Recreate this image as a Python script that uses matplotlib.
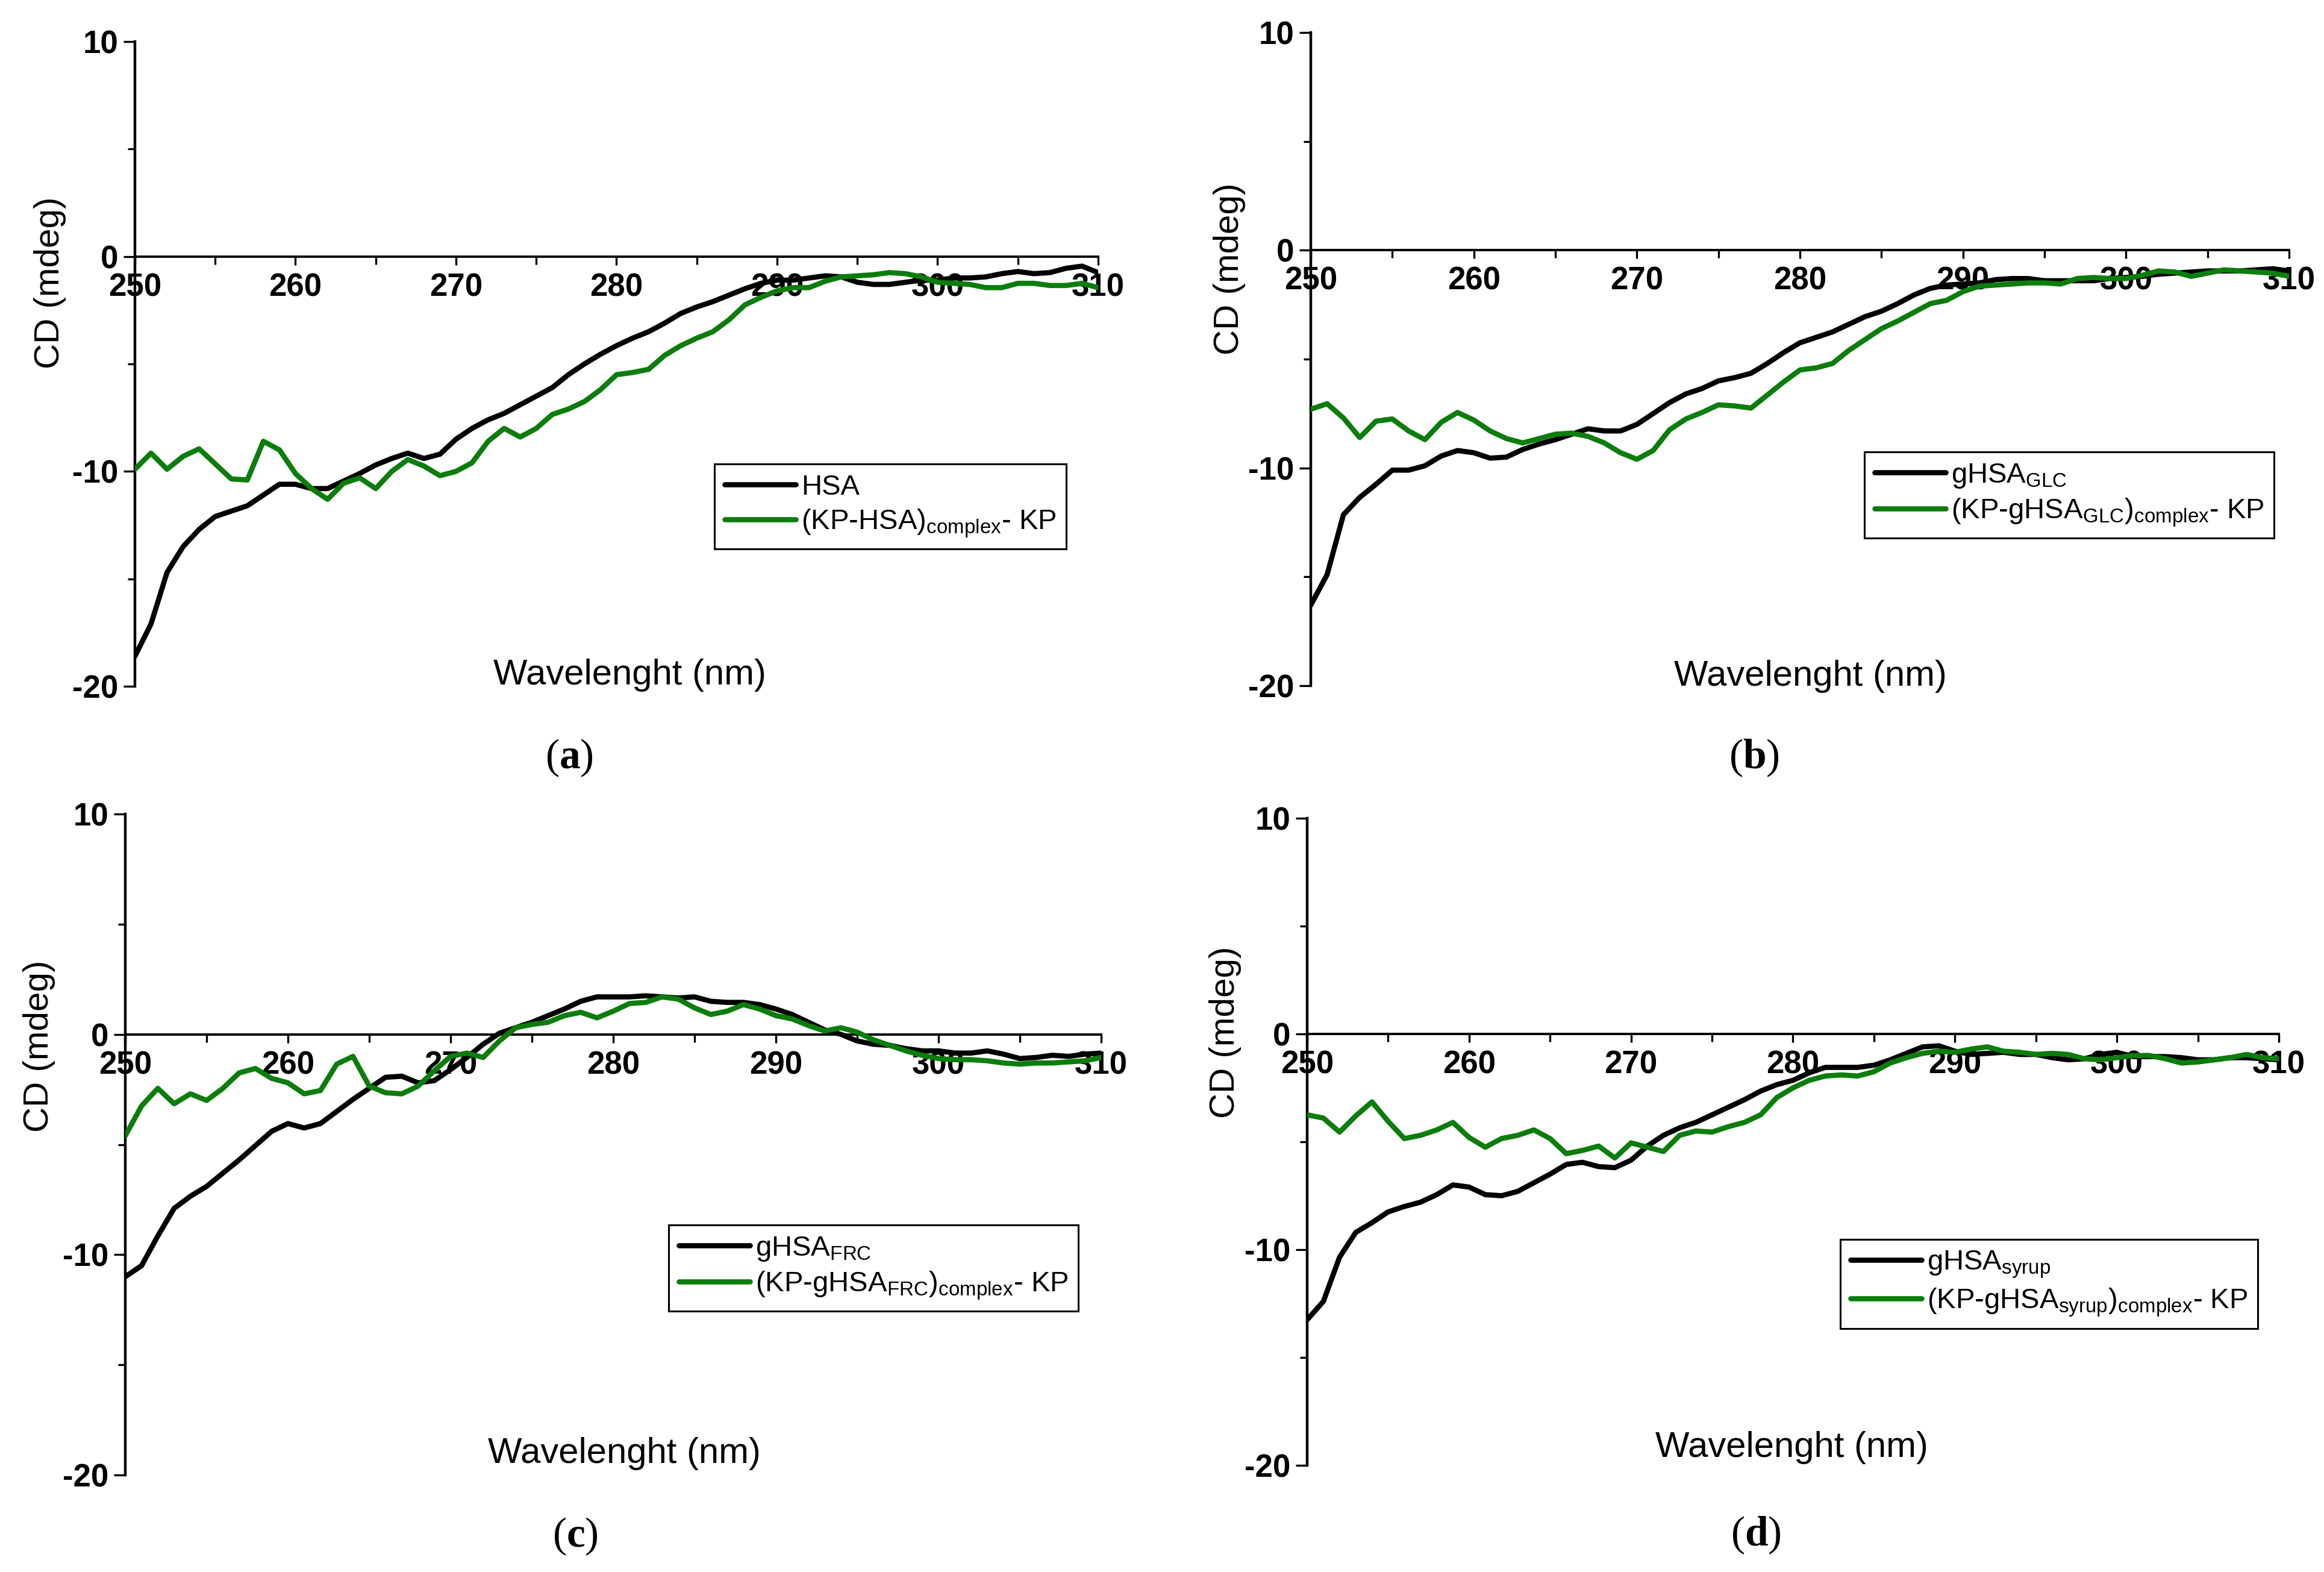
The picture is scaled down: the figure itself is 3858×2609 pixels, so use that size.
import numpy as np
import matplotlib
matplotlib.use("Agg")
import matplotlib.pyplot as plt

plt.rcParams['font.family'] = ['Liberation Sans', 'DejaVu Sans']
plt.rcParams['axes.unicode_minus'] = False
plt.rcParams['mathtext.fontset'] = 'custom'
plt.rcParams['mathtext.rm'] = 'Liberation Serif'
plt.rcParams['mathtext.bf'] = 'Liberation Serif:bold'

# wavelength grid (nm), one reading per nm
wavelength = np.arange(250, 311)

hsa = [-18.6, -17.1, -14.7, -13.5, -12.7, -12.1, -11.85, -11.6, -11.1, -10.6,
       -10.6, -10.8, -10.8, -10.45, -10.1, -9.7, -9.4, -9.15, -9.4, -9.2,
       -8.5, -8.0, -7.6, -7.3, -6.9, -6.5, -6.1, -5.5, -5.0, -4.55,
       -4.15, -3.8, -3.5, -3.1, -2.65, -2.35, -2.1, -1.8, -1.5, -1.25,
       -1.1, -1.1, -1.0, -0.9, -0.95, -1.2, -1.3, -1.3, -1.2, -1.1,
       -1.1, -1.0, -1.0, -0.95, -0.8, -0.7, -0.8, -0.75, -0.55, -0.45, -0.75]
kp_hsa = [-9.9, -9.15, -9.9, -9.3, -8.95, -9.65, -10.35, -10.4, -8.6, -9.0,
          -10.1, -10.8, -11.3, -10.55, -10.3, -10.8, -10.0, -9.45, -9.75, -10.2,
          -10.0, -9.6, -8.6, -8.0, -8.4, -8.0, -7.35, -7.1, -6.75, -6.2,
          -5.5, -5.4, -5.25, -4.6, -4.15, -3.8, -3.5, -2.95, -2.25, -1.9,
          -1.6, -1.45, -1.45, -1.15, -0.95, -0.9, -0.85, -0.75, -0.8, -0.95,
          -1.2, -1.25, -1.3, -1.45, -1.45, -1.25, -1.25, -1.35, -1.35, -1.25, -1.45]

ghsa_glc = [-16.3, -14.9, -12.15, -11.35, -10.75, -10.1, -10.1, -9.9, -9.45, -9.2,
            -9.3, -9.55, -9.5, -9.15, -8.9, -8.7, -8.45, -8.2, -8.3, -8.3,
            -8.0, -7.5, -7.0, -6.6, -6.35, -6.0, -5.85, -5.65, -5.2, -4.7,
            -4.25, -4.0, -3.75, -3.4, -3.05, -2.8, -2.45, -2.05, -1.75, -1.6,
            -1.55, -1.5, -1.35, -1.3, -1.3, -1.4, -1.4, -1.4, -1.4, -1.3,
            -1.25, -1.2, -1.1, -1.05, -1.0, -0.95, -0.95, -0.95, -0.9, -0.85, -0.95]
kp_glc = [-7.3, -7.05, -7.7, -8.6, -7.85, -7.75, -8.3, -8.7, -7.9, -7.45,
          -7.8, -8.3, -8.65, -8.85, -8.65, -8.45, -8.4, -8.55, -8.85, -9.3,
          -9.6, -9.2, -8.25, -7.75, -7.45, -7.1, -7.15, -7.25, -6.65, -6.05,
          -5.5, -5.4, -5.2, -4.6, -4.1, -3.6, -3.25, -2.85, -2.45, -2.3,
          -1.9, -1.65, -1.6, -1.55, -1.5, -1.5, -1.55, -1.3, -1.25, -1.3,
          -1.3, -1.15, -0.95, -1.0, -1.2, -1.05, -0.9, -0.95, -1.0, -1.05, -1.2]

ghsa_frc = [-11.0, -10.5, -9.15, -7.9, -7.35, -6.9, -6.3, -5.7, -5.05, -4.4,
            -4.05, -4.25, -4.05, -3.5, -2.95, -2.45, -1.95, -1.9, -2.2, -2.1,
            -1.6, -1.05, -0.45, 0.05, 0.3, 0.55, 0.85, 1.15, 1.5, 1.7,
            1.7, 1.7, 1.75, 1.7, 1.65, 1.7, 1.5, 1.45, 1.45, 1.35,
            1.15, 0.9, 0.55, 0.2, 0.0, -0.3, -0.45, -0.5, -0.65, -0.75,
            -0.75, -0.85, -0.85, -0.75, -0.9, -1.1, -1.05, -0.95, -1.0, -0.9, -0.85]
kp_frc = [-4.6, -3.25, -2.45, -3.15, -2.7, -3.0, -2.45, -1.75, -1.55, -2.0,
          -2.2, -2.7, -2.55, -1.35, -1.0, -2.35, -2.65, -2.7, -2.35, -1.65,
          -1.0, -0.85, -1.05, -0.3, 0.3, 0.45, 0.55, 0.85, 1.0, 0.75,
          1.05, 1.4, 1.45, 1.7, 1.6, 1.2, 0.9, 1.05, 1.35, 1.15,
          0.85, 0.7, 0.4, 0.15, 0.3, 0.1, -0.25, -0.5, -0.75, -0.95,
          -1.1, -1.15, -1.15, -1.2, -1.3, -1.35, -1.3, -1.3, -1.25, -1.2, -1.05]

ghsa_syrup = [-13.25, -12.4, -10.35, -9.2, -8.75, -8.25, -8.0, -7.8, -7.45, -7.0,
              -7.1, -7.45, -7.5, -7.3, -6.9, -6.5, -6.05, -5.95, -6.15, -6.2,
              -5.85, -5.2, -4.7, -4.35, -4.1, -3.75, -3.4, -3.05, -2.65, -2.35,
              -2.15, -1.8, -1.55, -1.55, -1.55, -1.45, -1.2, -0.9, -0.6, -0.55,
              -0.8, -0.95, -0.9, -0.85, -0.95, -0.95, -1.1, -1.2, -1.15, -0.95,
              -0.85, -1.05, -1.05, -1.05, -1.1, -1.2, -1.2, -1.1, -1.1, -1.15, -1.2]
kp_syrup = [-3.75, -3.9, -4.55, -3.8, -3.15, -4.05, -4.85, -4.7, -4.45, -4.1,
            -4.8, -5.25, -4.85, -4.7, -4.45, -4.85, -5.55, -5.4, -5.2, -5.75,
            -5.05, -5.25, -5.45, -4.7, -4.5, -4.55, -4.3, -4.1, -3.75, -2.95,
            -2.5, -2.15, -1.95, -1.9, -1.95, -1.75, -1.35, -1.1, -0.9, -0.8,
            -0.85, -0.7, -0.6, -0.8, -0.85, -0.95, -0.9, -0.95, -1.15, -1.2,
            -1.1, -1.0, -1.0, -1.15, -1.35, -1.3, -1.2, -1.1, -0.95, -1.1, -1.15]

black_labels = ['HSA', r'gHSA$_{\mathregular{GLC}}$',
                r'gHSA$_{\mathregular{FRC}}$', r'gHSA$_{\mathregular{syrup}}$']
green_labels = [r'(KP-HSA)$_{\mathregular{complex}}$- KP',
                r'(KP-gHSA$_{\mathregular{GLC}}$)$_{\mathregular{complex}}$- KP',
                r'(KP-gHSA$_{\mathregular{FRC}}$)$_{\mathregular{complex}}$- KP',
                r'(KP-gHSA$_{\mathregular{syrup}}$)$_{\mathregular{complex}}$- KP']
panel_tags = ['a', 'b', 'c', 'd']
x_ticks = [250, 260, 270, 280, 290, 300, 310]
y_ticks = [-20, -10, 0, 10]

W, H = 3858, 2609
GREEN = '#0b7d0b'
LW = 6.2
TICK_FONT = ['Liberation Sans Narrow', 'Liberation Sans', 'DejaVu Sans']

# layout in pixels of the original figure: (left, right, top, bottom)
axes_px = [(224, 1823, 69, 1139), (2176, 3800, 54, 1138),
           (208, 1828, 1351, 2448), (2170, 3783, 1358, 2432)]
legend_px = [(1186, 770), (3095, 750), (1110, 2033), (3055, 2057)]
xlabel_px = [(1045, 1121), (3005, 1122), (1036, 2412), (2974, 2403)]
ylabel_px = [(83, 469), (2041, 446), (65, 1736), (2034, 1713)]
tag_px = [(945, 1258), (2912, 1258), (955, 2550), (2915, 2548)]

fig = plt.figure(figsize=(W / 100, H / 100), dpi=100)

def fx(x):
    return x / W

def fy(y):
    return 1 - y / H

series = [(hsa, kp_hsa), (ghsa_glc, kp_glc), (ghsa_frc, kp_frc), (ghsa_syrup, kp_syrup)]

for i, (blk, grn) in enumerate(series):
    l, r, t, b = axes_px[i]
    ax = fig.add_axes([fx(l), fy(b), (r - l) / W, (b - t) / H])
    ax.plot(wavelength, blk, color='black', lw=LW, solid_joinstyle='round',
            solid_capstyle='round', label=black_labels[i], zorder=3)
    ax.plot(wavelength, grn, color=GREEN, lw=LW, solid_joinstyle='round',
            solid_capstyle='round', label=green_labels[i], zorder=4)
    ax.set_xlim(250, 310)
    ax.set_ylim(-20, 10)
    for s in ['top', 'right']:
        ax.spines[s].set_visible(False)
    ax.spines['bottom'].set_position(('data', 0))
    ax.spines['left'].set_linewidth(3.2)
    ax.spines['bottom'].set_linewidth(2.8)
    ax.set_xticks(x_ticks)
    ax.set_xticks(np.arange(255, 310, 10), minor=True)
    ax.set_yticks(y_ticks)
    ax.set_yticks([-15, -5, 5], minor=True)
    ax.tick_params(axis='x', which='major', direction='out', length=10, width=2.4,
                   pad=9, labelsize=38)
    ax.tick_params(axis='x', which='minor', direction='out', length=9, width=2.4)
    ax.tick_params(axis='y', which='major', direction='out', length=14, width=2.4,
                   pad=6, labelsize=38)
    ax.tick_params(axis='y', which='minor', direction='out', length=9, width=2.4)
    for lab in ax.get_xticklabels() + ax.get_yticklabels():
        lab.set_family(TICK_FONT)
        lab.set_fontweight('bold')
    ax.set_facecolor('none')

    lx, ly = xlabel_px[i]
    fig.text(fx(lx), fy(ly), 'Wavelenght (nm)', fontsize=43, ha='center', va='center')
    yx, yy = ylabel_px[i]
    fig.text(fx(yx), fy(yy), 'CD (mdeg)', fontsize=42, rotation=90,
             ha='center', va='center')
    tx, ty = tag_px[i]
    fig.text(fx(tx), fy(ty), r'($\mathbf{%s}$)' % panel_tags[i], fontsize=50,
             family='Liberation Serif', ha='center', va='center')

    gx, gy = legend_px[i]
    leg = ax.legend(loc='upper left', bbox_to_anchor=(fx(gx), fy(gy)),
                    bbox_transform=fig.transFigure, fontsize=34, frameon=True,
                    fancybox=False, edgecolor='black', framealpha=1,
                    borderaxespad=0, borderpad=0.35, handlelength=2.5,
                    handletextpad=0.2, labelspacing=0.25)
    leg.get_frame().set_linewidth(2.2)
    for ln in leg.get_lines():
        ln.set_linewidth(LW)

fig.savefig('out.png', dpi=100, facecolor='white')
